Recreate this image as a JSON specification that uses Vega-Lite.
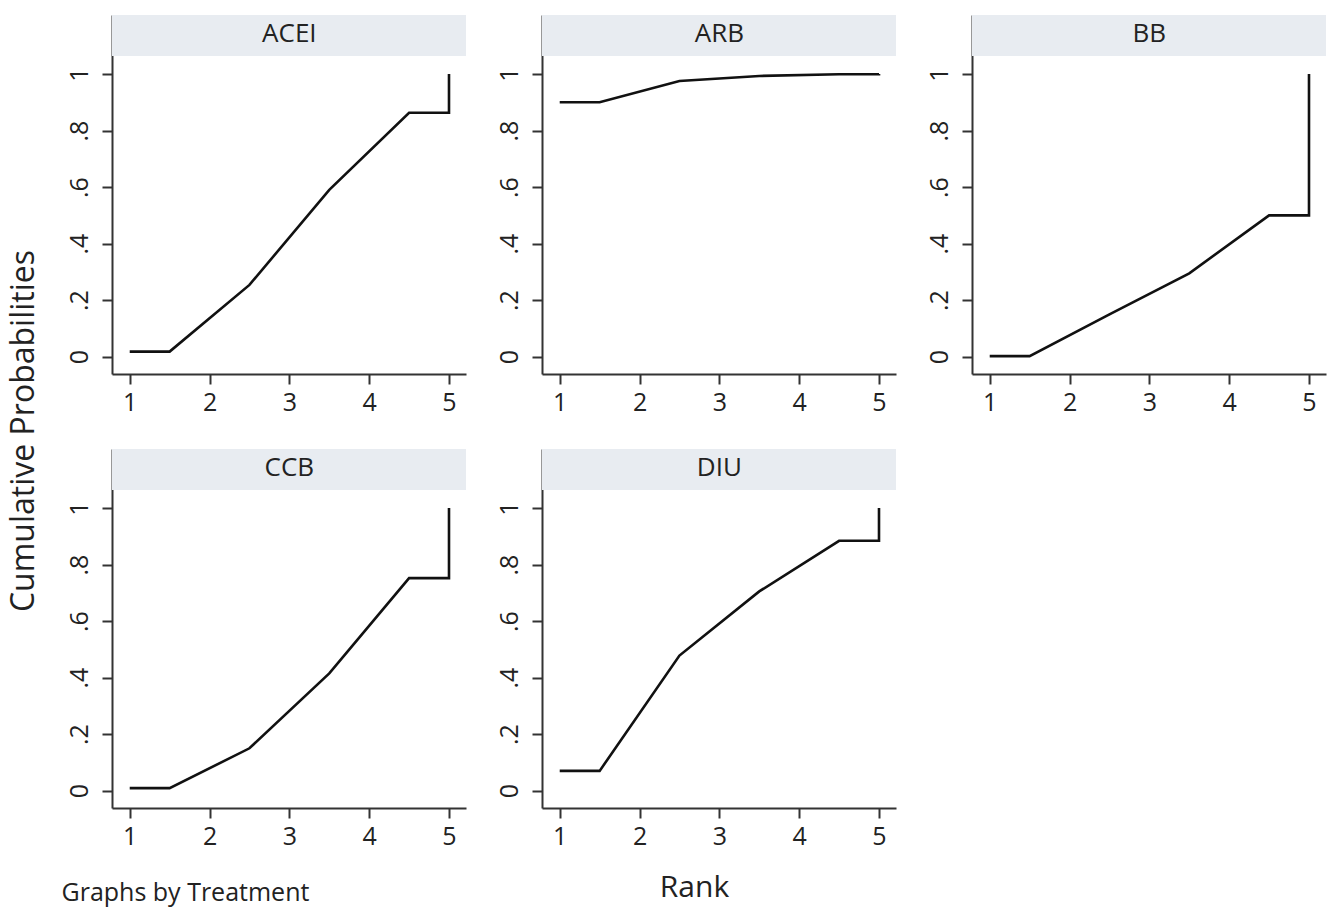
{
  "$schema": "https://vega.github.io/schema/vega-lite/v6.json",
  "background": "white",
  "padding": {"left": 7, "top": 15, "right": 5, "bottom": 5},
  "datasets": {
    "curves": [
      {"t": "ACEI", "k": 1, "rank": 1, "p": 0.018},
      {"t": "ACEI", "k": 2, "rank": 1.5, "p": 0.018},
      {"t": "ACEI", "k": 3, "rank": 2.5, "p": 0.254},
      {"t": "ACEI", "k": 4, "rank": 3.5, "p": 0.59},
      {"t": "ACEI", "k": 5, "rank": 4.5, "p": 0.863},
      {"t": "ACEI", "k": 6, "rank": 5, "p": 0.863},
      {"t": "ACEI", "k": 7, "rank": 5, "p": 1},
      {"t": "ARB", "k": 1, "rank": 1, "p": 0.9},
      {"t": "ARB", "k": 2, "rank": 1.5, "p": 0.9},
      {"t": "ARB", "k": 3, "rank": 2.5, "p": 0.975},
      {"t": "ARB", "k": 4, "rank": 3.5, "p": 0.993},
      {"t": "ARB", "k": 5, "rank": 4.5, "p": 0.999},
      {"t": "ARB", "k": 6, "rank": 5, "p": 0.999},
      {"t": "ARB", "k": 7, "rank": 5, "p": 1},
      {"t": "BB", "k": 1, "rank": 1, "p": 0.002},
      {"t": "BB", "k": 2, "rank": 1.5, "p": 0.002},
      {"t": "BB", "k": 3, "rank": 2.5, "p": 0.15},
      {"t": "BB", "k": 4, "rank": 3.5, "p": 0.295},
      {"t": "BB", "k": 5, "rank": 4.5, "p": 0.5},
      {"t": "BB", "k": 6, "rank": 5, "p": 0.5},
      {"t": "BB", "k": 7, "rank": 5, "p": 1},
      {"t": "CCB", "k": 1, "rank": 1, "p": 0.009},
      {"t": "CCB", "k": 2, "rank": 1.5, "p": 0.009},
      {"t": "CCB", "k": 3, "rank": 2.5, "p": 0.15},
      {"t": "CCB", "k": 4, "rank": 3.5, "p": 0.415},
      {"t": "CCB", "k": 5, "rank": 4.5, "p": 0.752},
      {"t": "CCB", "k": 6, "rank": 5, "p": 0.752},
      {"t": "CCB", "k": 7, "rank": 5, "p": 1},
      {"t": "DIU", "k": 1, "rank": 1, "p": 0.07},
      {"t": "DIU", "k": 2, "rank": 1.5, "p": 0.07},
      {"t": "DIU", "k": 3, "rank": 2.5, "p": 0.478},
      {"t": "DIU", "k": 4, "rank": 3.5, "p": 0.705},
      {"t": "DIU", "k": 5, "rank": 4.5, "p": 0.884},
      {"t": "DIU", "k": 6, "rank": 5, "p": 0.884},
      {"t": "DIU", "k": 7, "rank": 5, "p": 1}
    ]
  },
  "data": {"name": "curves"},
  "title": {"text": "Cumulative Probabilities", "orient": "left", "anchor": "middle", "fontSize": 32, "font": "Open Sans", "fontWeight": "normal", "color": "#222", "offset": 20, "dx": 29},
  "bounds": "flush",
  "columns": 3,
  "spacing": {"row": 75, "column": 76},
  "concat": [
    {
      "width": 354, "height": 359,
      "transform": [{"filter": "datum.t == 'ACEI'"}],
      "layer": [
        {"mark": {"type": "line", "color": "#111", "strokeWidth": 2.6},
         "encoding": {
           "x": {"field": "rank", "type": "quantitative", "scale": {"domain": [0.778, 5.213], "nice": false, "zero": false}, "axis": {"values": [1, 2, 3, 4, 5], "format": "d", "title": null}},
           "y": {"field": "p", "type": "quantitative", "scale": {"domain": [-0.0612, 1.2087], "nice": false, "zero": false}, "axis": {"values": [0, 0.2, 0.4, 0.6, 0.8, 1], "title": null}},
           "order": {"field": "k"}}},
        {"transform": [{"filter": "datum.k == 1"}], "mark": {"type": "rect", "color": "#e8ecf1"},
         "encoding": {"x": {"datum": 0.778}, "x2": {"datum": 5.213}, "y": {"datum": 1.0637}, "y2": {"datum": 1.2087}}},
        {"transform": [{"filter": "datum.k == 1"}], "mark": {"type": "text", "font": "Open Sans", "fontSize": 26, "baseline": "alphabetic", "color": "#222"},
         "encoding": {"x": {"datum": 3}, "y": {"datum": 1.1132}, "text": {"field": "t"}}}
      ]
    },
    {
      "width": 354, "height": 359,
      "transform": [{"filter": "datum.t == 'ARB'"}],
      "layer": [
        {"mark": {"type": "line", "color": "#111", "strokeWidth": 2.6},
         "encoding": {
           "x": {"field": "rank", "type": "quantitative", "scale": {"domain": [0.778, 5.213], "nice": false, "zero": false}, "axis": {"values": [1, 2, 3, 4, 5], "format": "d", "title": null}},
           "y": {"field": "p", "type": "quantitative", "scale": {"domain": [-0.0612, 1.2087], "nice": false, "zero": false}, "axis": {"values": [0, 0.2, 0.4, 0.6, 0.8, 1], "title": null}},
           "order": {"field": "k"}}},
        {"transform": [{"filter": "datum.k == 1"}], "mark": {"type": "rect", "color": "#e8ecf1"},
         "encoding": {"x": {"datum": 0.778}, "x2": {"datum": 5.213}, "y": {"datum": 1.0637}, "y2": {"datum": 1.2087}}},
        {"transform": [{"filter": "datum.k == 1"}], "mark": {"type": "text", "font": "Open Sans", "fontSize": 26, "baseline": "alphabetic", "color": "#222"},
         "encoding": {"x": {"datum": 3}, "y": {"datum": 1.1132}, "text": {"field": "t"}}}
      ]
    },
    {
      "width": 354, "height": 359,
      "transform": [{"filter": "datum.t == 'BB'"}],
      "layer": [
        {"mark": {"type": "line", "color": "#111", "strokeWidth": 2.6},
         "encoding": {
           "x": {"field": "rank", "type": "quantitative", "scale": {"domain": [0.778, 5.213], "nice": false, "zero": false}, "axis": {"values": [1, 2, 3, 4, 5], "format": "d", "title": null}},
           "y": {"field": "p", "type": "quantitative", "scale": {"domain": [-0.0612, 1.2087], "nice": false, "zero": false}, "axis": {"values": [0, 0.2, 0.4, 0.6, 0.8, 1], "title": null}},
           "order": {"field": "k"}}},
        {"transform": [{"filter": "datum.k == 1"}], "mark": {"type": "rect", "color": "#e8ecf1"},
         "encoding": {"x": {"datum": 0.778}, "x2": {"datum": 5.213}, "y": {"datum": 1.0637}, "y2": {"datum": 1.2087}}},
        {"transform": [{"filter": "datum.k == 1"}], "mark": {"type": "text", "font": "Open Sans", "fontSize": 26, "baseline": "alphabetic", "color": "#222"},
         "encoding": {"x": {"datum": 3}, "y": {"datum": 1.1132}, "text": {"field": "t"}}}
      ]
    },
    {
      "width": 354, "height": 359,
      "transform": [{"filter": "datum.t == 'CCB'"}],
      "layer": [
        {"mark": {"type": "line", "color": "#111", "strokeWidth": 2.6},
         "encoding": {
           "x": {"field": "rank", "type": "quantitative", "scale": {"domain": [0.778, 5.213], "nice": false, "zero": false}, "axis": {"values": [1, 2, 3, 4, 5], "format": "d", "title": "Graphs by Treatment", "titleFontSize": 25, "titleX": -51, "titleY": 92, "titleAlign": "left", "titleBaseline": "alphabetic"}},
           "y": {"field": "p", "type": "quantitative", "scale": {"domain": [-0.0612, 1.2087], "nice": false, "zero": false}, "axis": {"values": [0, 0.2, 0.4, 0.6, 0.8, 1], "title": null}},
           "order": {"field": "k"}}},
        {"transform": [{"filter": "datum.k == 1"}], "mark": {"type": "rect", "color": "#e8ecf1"},
         "encoding": {"x": {"datum": 0.778}, "x2": {"datum": 5.213}, "y": {"datum": 1.0637}, "y2": {"datum": 1.2087}}},
        {"transform": [{"filter": "datum.k == 1"}], "mark": {"type": "text", "font": "Open Sans", "fontSize": 26, "baseline": "alphabetic", "color": "#222"},
         "encoding": {"x": {"datum": 3}, "y": {"datum": 1.1132}, "text": {"field": "t"}}}
      ]
    },
    {
      "width": 354, "height": 359,
      "transform": [{"filter": "datum.t == 'DIU'"}],
      "layer": [
        {"mark": {"type": "line", "color": "#111", "strokeWidth": 2.6},
         "encoding": {
           "x": {"field": "rank", "type": "quantitative", "scale": {"domain": [0.778, 5.213], "nice": false, "zero": false}, "axis": {"values": [1, 2, 3, 4, 5], "format": "d", "title": "Rank", "titleFontSize": 30, "titleX": 152, "titleY": 88, "titleAlign": "center", "titleBaseline": "alphabetic"}},
           "y": {"field": "p", "type": "quantitative", "scale": {"domain": [-0.0612, 1.2087], "nice": false, "zero": false}, "axis": {"values": [0, 0.2, 0.4, 0.6, 0.8, 1], "title": null}},
           "order": {"field": "k"}}},
        {"transform": [{"filter": "datum.k == 1"}], "mark": {"type": "rect", "color": "#e8ecf1"},
         "encoding": {"x": {"datum": 0.778}, "x2": {"datum": 5.213}, "y": {"datum": 1.0637}, "y2": {"datum": 1.2087}}},
        {"transform": [{"filter": "datum.k == 1"}], "mark": {"type": "text", "font": "Open Sans", "fontSize": 26, "baseline": "alphabetic", "color": "#222"},
         "encoding": {"x": {"datum": 3}, "y": {"datum": 1.1132}, "text": {"field": "t"}}}
      ]
    }
  ],
  "config": {
    "view": {"stroke": null},
    "axis": {
      "grid": false, "zindex": 0,
      "domainColor": "#333", "domainWidth": 2,
      "tickColor": "#333", "tickWidth": 2, "tickSize": 10,
      "labelFont": "Open Sans", "labelFontSize": 25, "labelColor": "#222",
      "titleFont": "Open Sans", "titleFontWeight": "normal", "titleColor": "#222"
    },
    "axisX": {"labelPadding": 6, "labelAngle": 0},
    "axisY": {"labelAngle": 270, "labelAlign": "center", "labelBaseline": "alphabetic", "labelPadding": 15,
      "labelExpr": "datum.value == 0 ? '0' : (datum.value == 1 ? '1' : replace(format(datum.value, '.1f'), '0.', '.'))"}
  }
}
